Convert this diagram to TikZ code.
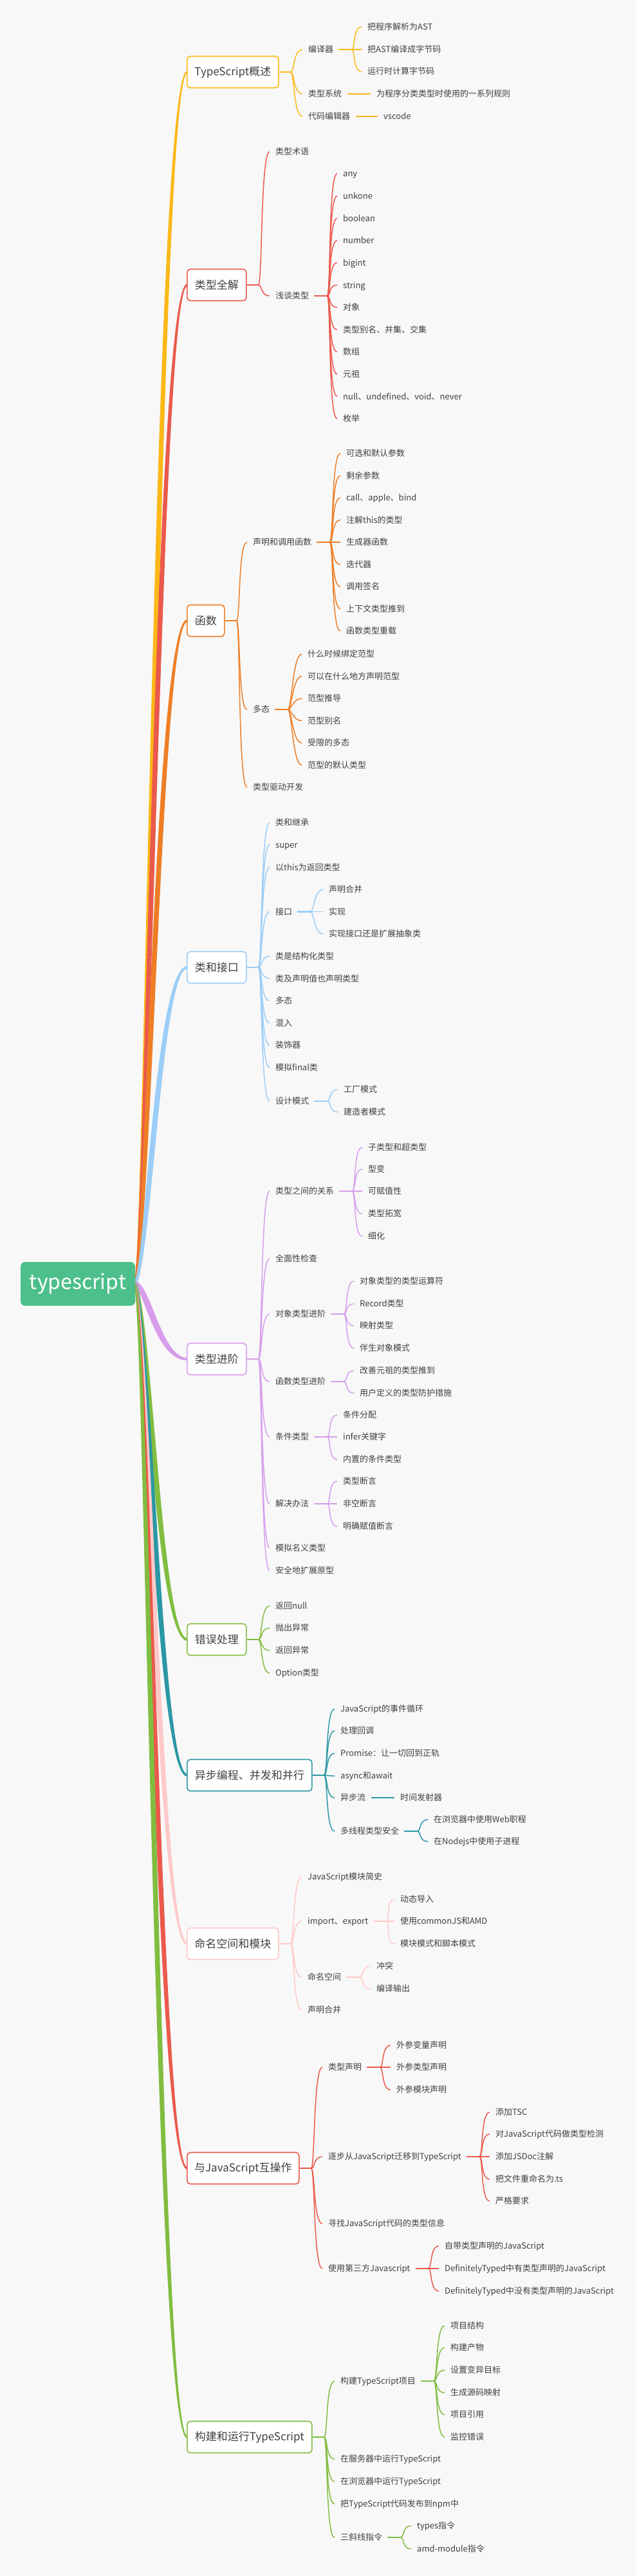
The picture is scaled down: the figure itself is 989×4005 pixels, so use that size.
\documentclass[tikz,border=0pt]{standalone}
\usepackage{fontspec}
\setmainfont{Noto Sans CJK SC}
\usetikzlibrary{calc}
\definecolor{bgc}{HTML}{F8F8F8}
\definecolor{txt}{HTML}{404040}
\definecolor{cA}{HTML}{FBB818}
\definecolor{cB}{HTML}{EA5A4C}
\definecolor{cC}{HTML}{EE7E25}
\definecolor{cD}{HTML}{9BCDF7}
\definecolor{cE}{HTML}{D79DEB}
\definecolor{cF}{HTML}{80BD40}
\definecolor{cG}{HTML}{2B97A5}
\definecolor{cH}{HTML}{FFC9C9}
\definecolor{rootc}{HTML}{4DBF8A}
\pgfdeclarelayer{back}\pgfdeclarelayer{lines}\pgfsetlayers{back,lines,main}
\tikzset{
 leaf/.style={anchor=west, inner sep=0pt, text=txt, font=\fontsize{13}{15}\selectfont, text height=11pt, text depth=1.4pt},
 topic/.style={anchor=west, draw=#1, line width=1.6pt, fill=white, rounded corners=5pt, minimum height=49pt, inner sep=0pt, text=txt, font=\fontsize{17}{20}\selectfont},
 thk/.style={line width=2.6pt},
 crv/.style={line width=1.5pt},
 sgl/.style={line width=2pt},
}
\newcommand\mmgrp[3]{%
 \draw[#1,thk] ($(#2.east)+(8,0)$) -- ($(#2.east)+(28,0)$) coordinate (#2-j);
 \foreach \c in {#3} {\draw[#1,crv] (#2-j) .. controls +(6,0) and +(-14,0) .. ($(\c.west)+(-9,0)$);}
}
\newcommand\mmtop[3]{%
 \draw[#1,thk] (#2.east) -- ++(18,0) coordinate (#2-j);
 \foreach \c in {#3} {\draw[#1,crv] (#2-j) .. controls +(6,0) and +(-14,0) .. ($(\c.west)+(-9,0)$);}
}
\newcommand\mmone[3]{\draw[#1,sgl] ($(#2.east)+(9,0)$) -- ($(#3.west)+(-9,0)$);}
\newcommand\mbranch[3]{%
 \fill[#1] ($(root.east)+(-2,-5)$) .. controls ($(root.east)+({19-(#3)},-5)$) and ($(#2.west)+({-45-(#3)},-2)$) .. ($(#2.west)+(1,-2)$)
  -- ($(#2.west)+(1,2)$) .. controls ($(#2.west)+({-45+(#3)},2)$) and ($(root.east)+({19+(#3)},5)$) .. ($(root.east)+(-2,5)$) -- cycle;
}
\begin{document}
\begin{tikzpicture}[x=1pt,y=-1pt]
\useasboundingbox (0,0) rectangle (989,4005);
\begin{pgfonlayer}{back}
\fill[bgc] (0,0) rectangle (989,4005);
\end{pgfonlayer}

\node[fill=rootc, rounded corners=7pt, minimum width=178pt, minimum height=68pt, inner sep=0pt, text=white, font=\fontsize{32}{36}\selectfont] (root) at (121,1996) {typescript};

% Topic 1
\node[topic=cA, minimum width=142pt] (t1) at (290,112) {TypeScript概述};
\node[leaf] (n1a) at (479,77) {编译器};
\node[leaf] (n1a1) at (571,42) {把程序解析为AST};
\node[leaf] (n1a2) at (571,77) {把AST编译成字节码};
\node[leaf] (n1a3) at (571,111) {运行时计算字节码};
\node[leaf] (n1b) at (479,146) {类型系统};
\node[leaf] (n1b1) at (585,146) {为程序分类类型时使用的一系列规则};
\node[leaf] (n1c) at (479,181) {代码编辑器};
\node[leaf] (n1c1) at (596,181) {vscode};

% Topic 2
\node[topic=cB, minimum width=92pt] (t2) at (290,443) {类型全解};
\node[leaf] (n2a) at (428,236) {类型术语};
\node[leaf] (n2b) at (428,460) {浅谈类型};
\node[leaf] (n2b1) at (533,270) {any};
\node[leaf] (n2b2) at (533,304.6) {unkone};
\node[leaf] (n2b3) at (533,339.3) {boolean};
\node[leaf] (n2b4) at (533,373.9) {number};
\node[leaf] (n2b5) at (533,408.5) {bigint};
\node[leaf] (n2b6) at (533,443.2) {string};
\node[leaf] (n2b7) at (533,477.8) {对象};
\node[leaf] (n2b8) at (533,512.4) {类型别名、并集、交集};
\node[leaf] (n2b9) at (533,547) {数组};
\node[leaf] (n2b10) at (533,581.7) {元祖};
\node[leaf] (n2b11) at (533,616.3) {null、undefined、void、never};
\node[leaf] (n2b12) at (533,651) {枚举};

% Topic 3
\node[topic=cC, minimum width=58pt] (t3) at (290,965) {函数};
\node[leaf] (n3a) at (393,843) {声明和调用函数};
\node[leaf] (n3a1) at (538,705) {可选和默认参数};
\node[leaf] (n3a2) at (538,739.5) {剩余参数};
\node[leaf] (n3a3) at (538,774) {call、apple、bind};
\node[leaf] (n3a4) at (538,808.5) {注解this的类型};
\node[leaf] (n3a5) at (538,843) {生成器函数};
\node[leaf] (n3a6) at (538,877.5) {迭代器};
\node[leaf] (n3a7) at (538,912) {调用签名};
\node[leaf] (n3a8) at (538,946.5) {上下文类型推到};
\node[leaf] (n3a9) at (538,981) {函数类型重载};
\node[leaf] (n3b) at (393,1103) {多态};
\node[leaf] (n3b1) at (478,1017) {什么时候绑定范型};
\node[leaf] (n3b2) at (478,1051.5) {可以在什么地方声明范型};
\node[leaf] (n3b3) at (478,1086) {范型推导};
\node[leaf] (n3b4) at (478,1120.5) {范型别名};
\node[leaf] (n3b5) at (478,1155) {受限的多态};
\node[leaf] (n3b6) at (478,1189.5) {范型的默认类型};
\node[leaf] (n3c) at (393,1224) {类型驱动开发};

% Topic 4
\node[topic=cD, minimum width=92pt] (t4) at (290,1504) {类和接口};
\node[leaf] (n4a) at (428,1279) {类和继承};
\node[leaf] (n4b) at (428,1313.6) {super};
\node[leaf] (n4c) at (428,1348.2) {以this为返回类型};
\node[leaf] (n4d) at (428,1417.4) {接口};
\node[leaf] (n4d1) at (511,1383) {声明合并};
\node[leaf] (n4d2) at (511,1417.4) {实现};
\node[leaf] (n4d3) at (511,1452) {实现接口还是扩展抽象类};
\node[leaf] (n4e) at (428,1486.6) {类是结构化类型};
\node[leaf] (n4f) at (428,1521.2) {类及声明值也声明类型};
\node[leaf] (n4g) at (428,1555.8) {多态};
\node[leaf] (n4h) at (428,1590.4) {混入};
\node[leaf] (n4i) at (428,1625) {装饰器};
\node[leaf] (n4j) at (428,1659.6) {模拟final类};
\node[leaf] (n4k) at (428,1712) {设计模式};
\node[leaf] (n4k1) at (534,1694) {工厂模式};
\node[leaf] (n4k2) at (534,1729) {建造者模式};

% Topic 5
\node[topic=cE, minimum width=92pt] (t5) at (290,2113) {类型进阶};
\node[leaf] (n5a) at (428,1852) {类型之间的关系};
\node[leaf] (n5a1) at (572,1784) {子类型和超类型};
\node[leaf] (n5a2) at (572,1818) {型变};
\node[leaf] (n5a3) at (572,1852) {可赋值性};
\node[leaf] (n5a4) at (572,1887) {类型拓宽};
\node[leaf] (n5a5) at (572,1922) {细化};
\node[leaf] (n5b) at (428,1957) {全面性检查};
\node[leaf] (n5c) at (428,2043) {对象类型进阶};
\node[leaf] (n5c1) at (559,1992) {对象类型的类型运算符};
\node[leaf] (n5c2) at (559,2027) {Record类型};
\node[leaf] (n5c3) at (559,2061) {映射类型};
\node[leaf] (n5c4) at (559,2096) {伴生对象模式};
\node[leaf] (n5d) at (428,2148) {函数类型进阶};
\node[leaf] (n5d1) at (559,2131) {改善元祖的类型推到};
\node[leaf] (n5d2) at (559,2166) {用户定义的类型防护措施};
\node[leaf] (n5e) at (428,2234) {条件类型};
\node[leaf] (n5e1) at (533,2200) {条件分配};
\node[leaf] (n5e2) at (533,2234) {infer关键字};
\node[leaf] (n5e3) at (533,2269) {内置的条件类型};
\node[leaf] (n5f) at (428,2338) {解决办法};
\node[leaf] (n5f1) at (533,2303) {类型断言};
\node[leaf] (n5f2) at (533,2338) {非空断言};
\node[leaf] (n5f3) at (533,2373) {明确赋值断言};
\node[leaf] (n5g) at (428,2407) {模拟名义类型};
\node[leaf] (n5h) at (428,2442) {安全地扩展原型};

% Topic 6
\node[topic=cF, minimum width=92pt] (t6) at (290,2549) {错误处理};
\node[leaf] (n6a) at (428,2497) {返回null};
\node[leaf] (n6b) at (428,2531) {抛出异常};
\node[leaf] (n6c) at (428,2566) {返回异常};
\node[leaf] (n6d) at (428,2601) {Option类型};

% Topic 7
\node[topic=cG, minimum width=194pt] (t7) at (290,2760) {异步编程、并发和并行};
\node[leaf] (n7a) at (529,2657) {JavaScript的事件循环};
\node[leaf] (n7b) at (529,2691) {处理回调};
\node[leaf] (n7c) at (529,2726) {Promise：让一切回到正轨};
\node[leaf] (n7d) at (529,2761) {async和await};
\node[leaf] (n7e) at (529,2795) {异步流};
\node[leaf] (n7e1) at (622,2795) {时间发射器};
\node[leaf] (n7f) at (529,2847) {多线程类型安全};
\node[leaf] (n7f1) at (674,2829) {在浏览器中使用Web职程};
\node[leaf] (n7f2) at (674,2863) {在Nodejs中使用子进程};

% Topic 8
\node[topic=cH, minimum width=142pt] (t8) at (290,3022) {命名空间和模块};
\node[leaf] (n8a) at (478,2918) {JavaScript模块简史};
\node[leaf] (n8b) at (478,2987) {import、export};
\node[leaf] (n8b1) at (622,2953) {动态导入};
\node[leaf] (n8b2) at (622,2987) {使用commonJS和AMD};
\node[leaf] (n8b3) at (622,3022) {模块模式和脚本模式};
\node[leaf] (n8c) at (478,3074) {命名空间};
\node[leaf] (n8c1) at (585,3057) {冲突};
\node[leaf] (n8c2) at (585,3092) {编译输出};
\node[leaf] (n8d) at (478,3125) {声明合并};

% Topic 9
\node[topic=cB, minimum width=174pt] (t9) at (290,3371) {与JavaScript互操作};
\node[leaf] (n9a) at (510,3214) {类型声明};
\node[leaf] (n9a1) at (616,3180) {外参变量声明};
\node[leaf] (n9a2) at (616,3214) {外参类型声明};
\node[leaf] (n9a3) at (616,3249) {外参模块声明};
\node[leaf] (n9b) at (510,3353) {逐步从JavaScript迁移到TypeScript};
\node[leaf] (n9b1) at (770,3284) {添加TSC};
\node[leaf] (n9b2) at (770,3318) {对JavaScript代码做类型检测};
\node[leaf] (n9b3) at (770,3353) {添加JSDoc注解};
\node[leaf] (n9b4) at (770,3388) {把文件重命名为.ts};
\node[leaf] (n9b5) at (770,3422) {严格要求};
\node[leaf] (n9c) at (510,3457) {寻找JavaScript代码的类型信息};
\node[leaf] (n9d) at (510,3527) {使用第三方Javascript};
\node[leaf] (n9d1) at (691,3492) {自带类型声明的JavaScript};
\node[leaf] (n9d2) at (691,3527) {DefinitelyTyped中有类型声明的JavaScript};
\node[leaf] (n9d3) at (691,3562) {DefinitelyTyped中没有类型声明的JavaScript};

% Topic 10
\node[topic=cF, minimum width=194pt] (t10) at (290,3789) {构建和运行TypeScript};
\node[leaf] (n10a) at (529,3702) {构建TypeScript项目};
\node[leaf] (n10a1) at (700,3616) {项目结构};
\node[leaf] (n10a2) at (700,3650) {构建产物};
\node[leaf] (n10a3) at (700,3685) {设置变异目标};
\node[leaf] (n10a4) at (700,3720) {生成源码映射};
\node[leaf] (n10a5) at (700,3754) {项目引用};
\node[leaf] (n10a6) at (700,3789) {监控错误};
\node[leaf] (n10b) at (529,3823) {在服务器中运行TypeScript};
\node[leaf] (n10c) at (529,3858) {在浏览器中运行TypeScript};
\node[leaf] (n10d) at (529,3893) {把TypeScript代码发布到npm中};
\node[leaf] (n10e) at (529,3945) {三斜线指令};
\node[leaf] (n10e1) at (648,3927) {types指令};
\node[leaf] (n10e2) at (648,3963) {amd-module指令};

\begin{pgfonlayer}{lines}
\mbranch{cA}{t1}{5}
\mbranch{cB}{t2}{5}
\mbranch{cC}{t3}{5}
\mbranch{cD}{t4}{5}
\mbranch{cE}{t5}{-5}
\mbranch{cF}{t6}{-5}
\mbranch{cG}{t7}{-5}
\mbranch{cH}{t8}{-5}
\mbranch{cB}{t9}{-5}
\mbranch{cF}{t10}{-5}

\mmtop{cA}{t1}{n1a,n1b,n1c}
\mmgrp{cA}{n1a}{n1a1,n1a2,n1a3}
\mmone{cA}{n1b}{n1b1}
\mmone{cA}{n1c}{n1c1}

\mmtop{cB}{t2}{n2a,n2b}
\mmgrp{cB}{n2b}{n2b1,n2b2,n2b3,n2b4,n2b5,n2b6,n2b7,n2b8,n2b9,n2b10,n2b11,n2b12}

\mmtop{cC}{t3}{n3a,n3b,n3c}
\mmgrp{cC}{n3a}{n3a1,n3a2,n3a3,n3a4,n3a5,n3a6,n3a7,n3a8,n3a9}
\mmgrp{cC}{n3b}{n3b1,n3b2,n3b3,n3b4,n3b5,n3b6}

\mmtop{cD}{t4}{n4a,n4b,n4c,n4d,n4e,n4f,n4g,n4h,n4i,n4j,n4k}
\mmgrp{cD}{n4d}{n4d1,n4d2,n4d3}
\mmgrp{cD}{n4k}{n4k1,n4k2}

\mmtop{cE}{t5}{n5a,n5b,n5c,n5d,n5e,n5f,n5g,n5h}
\mmgrp{cE}{n5a}{n5a1,n5a2,n5a3,n5a4,n5a5}
\mmgrp{cE}{n5c}{n5c1,n5c2,n5c3,n5c4}
\mmgrp{cE}{n5d}{n5d1,n5d2}
\mmgrp{cE}{n5e}{n5e1,n5e2,n5e3}
\mmgrp{cE}{n5f}{n5f1,n5f2,n5f3}

\mmtop{cF}{t6}{n6a,n6b,n6c,n6d}

\mmtop{cG}{t7}{n7a,n7b,n7c,n7d,n7e,n7f}
\mmone{cG}{n7e}{n7e1}
\mmgrp{cG}{n7f}{n7f1,n7f2}

\mmtop{cH}{t8}{n8a,n8b,n8c,n8d}
\mmgrp{cH}{n8b}{n8b1,n8b2,n8b3}
\mmgrp{cH}{n8c}{n8c1,n8c2}

\mmtop{cB}{t9}{n9a,n9b,n9c,n9d}
\mmgrp{cB}{n9a}{n9a1,n9a2,n9a3}
\mmgrp{cB}{n9b}{n9b1,n9b2,n9b3,n9b4,n9b5}
\mmgrp{cB}{n9d}{n9d1,n9d2,n9d3}

\mmtop{cF}{t10}{n10a,n10b,n10c,n10d,n10e}
\mmgrp{cF}{n10a}{n10a1,n10a2,n10a3,n10a4,n10a5,n10a6}
\mmgrp{cF}{n10e}{n10e1,n10e2}
\end{pgfonlayer}
\end{tikzpicture}
\end{document}
